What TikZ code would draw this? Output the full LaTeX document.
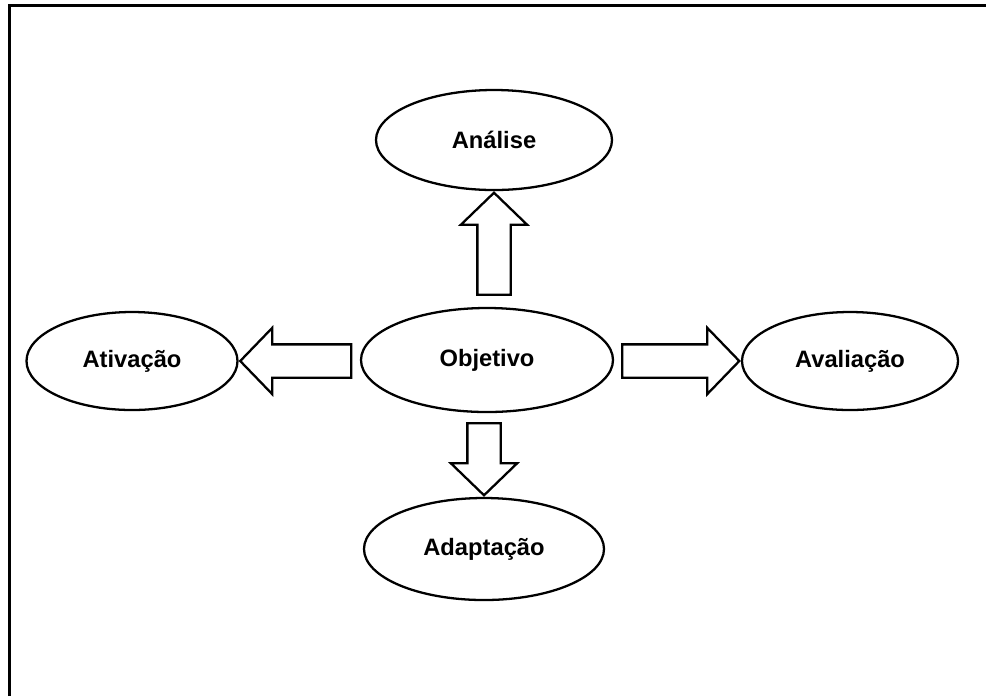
\documentclass[tikz,border=0pt]{standalone}
\usepackage{fontspec}
\setmainfont{Liberation Sans}
\usetikzlibrary{shapes.geometric,shapes.arrows}

\begin{document}
\begin{tikzpicture}[x=0.2mm,y=-0.2mm,
stage/.style={draw,ellipse,line width=1.3pt,inner sep=0pt,font=\fontsize{13.5}{16}\selectfont\bfseries},
blkarrow/.style={draw,single arrow,line width=1.3pt,inner sep=3.1mm,single arrow head extend=3.3mm,single arrow tip angle=92,anchor=tip}
]
\useasboundingbox (0,0) rectangle (986,696);
\draw[line width=1.7pt] (9.5,696) -- (9.5,5) -- (986,5);

\node[stage,minimum width=47.2mm,minimum height=20mm] (ana) at (494,140) {Análise};
\node[stage,minimum width=50.4mm,minimum height=20.8mm] (obj) at (487,360) {Objetivo};
\node[stage,minimum width=42.2mm,minimum height=19.6mm] (ati) at (132,361) {Ativação};
\node[stage,minimum width=43.2mm,minimum height=19.6mm] (ava) at (850,361) {Avaliação};
\node[stage,minimum width=48mm,minimum height=20.4mm] (ada) at (484,549) {Adaptação};

\node[blkarrow,minimum height=20.4mm,shape border rotate=90] (upArr) at (ana.south) {};
\node[blkarrow,minimum height=22.2mm,shape border rotate=180] (leftArr) at (ati.east) {};
\node[blkarrow,minimum height=23.4mm,shape border rotate=0] (rightArr) at (ava.west) {};
\node[blkarrow,minimum height=14.4mm,shape border rotate=270] (downArr) at (ada.north) {};
\end{tikzpicture}
\end{document}
